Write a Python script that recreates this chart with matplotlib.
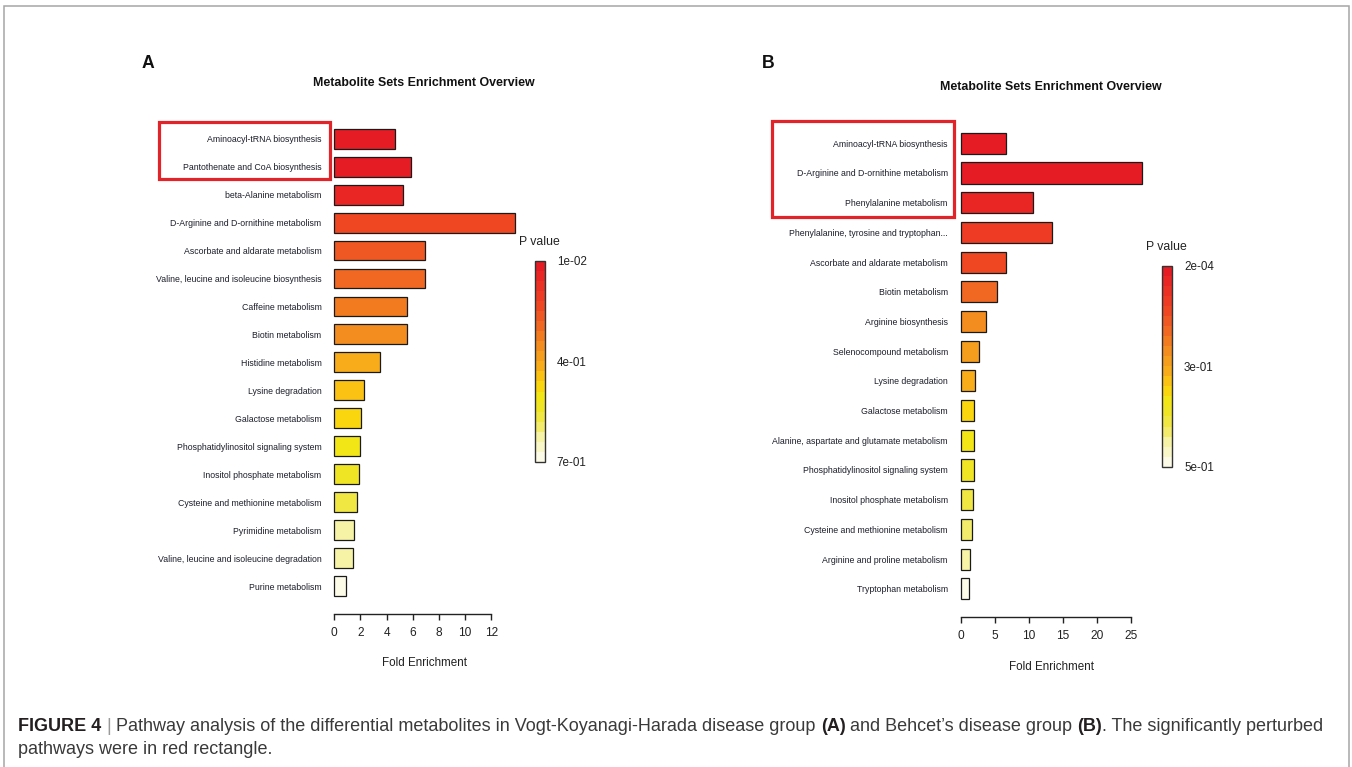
import matplotlib
matplotlib.use("Agg")
import matplotlib.pyplot as plt
import numpy as np
from matplotlib.colors import LinearSegmentedColormap, ListedColormap, Normalize
from matplotlib.cm import ScalarMappable
from matplotlib.patches import Rectangle
from matplotlib.transforms import blended_transform_factory
from matplotlib.font_manager import FontProperties

# ---------------------------------------------------------------- data
a_pathways = [
    "Aminoacyl-tRNA biosynthesis",
    "Pantothenate and CoA biosynthesis",
    "beta-Alanine metabolism",
    "D-Arginine and D-ornithine metabolism",
    "Ascorbate and aldarate metabolism",
    "Valine, leucine and isoleucine biosynthesis",
    "Caffeine metabolism",
    "Biotin metabolism",
    "Histidine metabolism",
    "Lysine degradation",
    "Galactose metabolism",
    "Phosphatidylinositol signaling system",
    "Inositol phosphate metabolism",
    "Cysteine and methionine metabolism",
    "Pyrimidine metabolism",
    "Valine, leucine and isoleucine degradation",
    "Purine metabolism",
]
a_fold = [4.62, 5.84, 5.25, 13.8, 6.93, 6.93, 5.53, 5.53, 3.47, 2.25,
          2.04, 1.97, 1.86, 1.74, 1.48, 1.40, 0.89]
a_pval = [0.010, 0.030, 0.065, 0.150, 0.196, 0.230, 0.270, 0.320, 0.355,
          0.396, 0.440, 0.480, 0.507, 0.534, 0.600, 0.630, 0.700]
a_boxed = 2  # leading pathways marked as significantly perturbed

b_pathways = [
    "Aminoacyl-tRNA biosynthesis",
    "D-Arginine and D-ornithine metabolism",
    "Phenylalanine metabolism",
    "Phenylalanine, tyrosine and tryptophan...",
    "Ascorbate and aldarate metabolism",
    "Biotin metabolism",
    "Arginine biosynthesis",
    "Selenocompound metabolism",
    "Lysine degradation",
    "Galactose metabolism",
    "Alanine, aspartate and glutamate metabolism",
    "Phosphatidylinositol signaling system",
    "Inositol phosphate metabolism",
    "Cysteine and methionine metabolism",
    "Arginine and proline metabolism",
    "Tryptophan metabolism",
]
b_fold = [6.65, 26.67, 10.6, 13.36, 6.65, 5.28, 3.77, 2.69, 2.15, 1.91,
          1.93, 1.93, 1.76, 1.61, 1.41, 1.27]
b_pval = [0.0002, 0.010, 0.040, 0.090, 0.125, 0.160, 0.210, 0.240, 0.275,
          0.310, 0.340, 0.360, 0.380, 0.425, 0.450, 0.500]
b_boxed = 3

title_text = "Metabolite Sets Enrichment Overview"
xlabel_text = "Fold Enrichment"
cbar_title = "P value"

# ---------------------------------------------------------------- setup
W, H, DPI = 1352, 767, 100
fig = plt.figure(figsize=(W / DPI, H / DPI), dpi=DPI, facecolor="white")

SANS = "Liberation Sans"
LABEL_COLOR = "#1d1f2c"
AXIS_COLOR = "#222222"


def fx(px):
    return px / W


def fy(py):
    return 1 - py / H


def add_axes_px(left, top, right, bottom):
    return fig.add_axes([left / W, 1 - bottom / H, (right - left) / W, (bottom - top) / H])


# red -> orange -> yellow -> cream, drawn as discrete steps
anchors = [
    (0.00, "#e61c24"), (0.08, "#ea2b24"), (0.20, "#ee4522"), (0.27, "#ef5a22"),
    (0.32, "#f06a22"), (0.38, "#f27f20"), (0.45, "#f5981e"), (0.50, "#f6a31c"),
    (0.56, "#fbb916"), (0.62, "#fcd20c"), (0.68, "#f3e614"), (0.76, "#efe52a"),
    (0.86, "#f3ec78"), (0.90, "#f6f3a8"), (1.00, "#fcfbe8"),
]
base = LinearSegmentedColormap.from_list("heat", anchors)
cmap = ListedColormap(base(np.linspace(0, 1, 20)))


def draw_panel(letter, names, fold, pval, nboxed, lay):
    n = len(names)
    idx = np.arange(n)
    vmax = max(fold)
    left = lay["x0"]
    right = left + vmax * lay["scale"]
    ax = add_axes_px(left, lay["top"], right, lay["axis_y"])
    sp = lay["spacing"]
    ax.set_xlim(0, vmax)
    ax.set_ylim((lay["axis_y"] - lay["y0"]) / sp, (lay["top"] - lay["y0"]) / sp)

    norm = Normalize(vmin=min(pval), vmax=max(pval))
    bars = ax.barh(idx, fold, height=0.71, color=cmap(norm(np.array(pval))),
                   edgecolor="#1a1a1a", linewidth=0.9, zorder=2)
    for b in bars:
        b.set_clip_on(False)

    ax.set_yticks(idx, names)
    ax.tick_params(axis="y", length=0, pad=9.3, labelsize=6.3, labelcolor=LABEL_COLOR)
    for t in ax.get_yticklabels():
        t.set_fontfamily(SANS)

    for s in ("top", "right", "left"):
        ax.spines[s].set_visible(False)
    ax.spines["bottom"].set_bounds(0, lay["tick_max"])
    ax.spines["bottom"].set_color(AXIS_COLOR)
    ax.spines["bottom"].set_linewidth(1.0)
    ax.set_xticks(np.arange(0, lay["tick_max"] + 0.1, lay["tick_step"]))
    ax.tick_params(axis="x", length=4.3, width=1.0, color=AXIS_COLOR, pad=5,
                   labelsize=8.6, labelcolor=AXIS_COLOR)
    for t in ax.get_xticklabels():
        t.set_fontfamily(SANS)
    ax.patch.set_visible(False)

    tr = blended_transform_factory(ax.transAxes, fig.transFigure)
    ax.text(0.5, fy(lay["xlabel_y"]), xlabel_text, transform=tr, ha="center",
            va="center", fontsize=8.4, family=SANS, color=AXIS_COLOR)

    # highlighted pathways
    btr = blended_transform_factory(fig.transFigure, ax.transData)
    y_top = -lay["box_pad_top"]
    y_bot = nboxed - 1 + lay["box_pad_bot"]
    ax.add_patch(Rectangle((fx(lay["box_x0"]), y_top), fx(lay["box_x1"]) - fx(lay["box_x0"]),
                           y_bot - y_top, transform=btr, fill=False,
                           edgecolor="#e3232a", linewidth=2.3, clip_on=False, zorder=5))

    # colour key
    cax = add_axes_px(lay["cb_x0"], lay["cb_top"], lay["cb_x0"] + 10, lay["cb_bot"])
    mid = (min(pval) + max(pval)) / 2
    cb = fig.colorbar(ScalarMappable(norm=norm, cmap=cmap), cax=cax,
                      ticks=[min(pval), mid, max(pval)])
    cax.invert_yaxis()
    cb.set_ticklabels([f"{v:.0e}" for v in (min(pval), mid, max(pval))])
    cax.tick_params(length=0, pad=8.5, labelsize=8.4, labelcolor=AXIS_COLOR)
    for t in cax.get_yticklabels():
        t.set_fontfamily(SANS)
    cb.outline.set_edgecolor("#333333")
    cb.outline.set_linewidth(1.0)
    fig.text(fx(lay["cb_x0"] + 4), fy(lay["cb_top"] - 19), cbar_title, ha="center",
             va="center", fontsize=8.8, family=SANS, color=AXIS_COLOR)

    fig.text(fx(lay["title_x"]), fy(lay["title_y"]), title_text, ha="center", va="center",
             fontsize=8.9, family=SANS, weight="bold", color="#111111")
    fig.text(fx(lay["letter_x"]), fy(lay["letter_y"]), letter, ha="center", va="center",
             fontsize=12.7, family=SANS, weight="bold", color="#111111")
    return ax


layout_a = dict(x0=334.3, scale=13.08, top=122, axis_y=614, y0=138.7, spacing=27.96,
                tick_max=12, tick_step=2, xlabel_y=663,
                box_x0=159.3, box_x1=330.0, box_pad_top=0.60, box_pad_bot=0.45,
                cb_x0=535, cb_top=260.7, cb_bot=462,
                title_x=423.8, title_y=83.3, letter_x=148, letter_y=63)
layout_b = dict(x0=960.7, scale=6.81, top=120, axis_y=617.3, y0=143.3, spacing=29.7,
                tick_max=25, tick_step=5, xlabel_y=666.7,
                box_x0=771.7, box_x1=954.3, box_pad_top=0.76, box_pad_bot=0.49,
                cb_x0=1162.3, cb_top=265.7, cb_bot=466.7,
                title_x=1050.7, title_y=86.7, letter_x=768, letter_y=63)

draw_panel("A", a_pathways, a_fold, a_pval, a_boxed, layout_a)
draw_panel("B", b_pathways, b_fold, b_pval, b_boxed, layout_b)

# ---------------------------------------------------------------- caption
renderer = fig.canvas.get_renderer()


def run_width(s, props):
    w1, _, _ = renderer.get_text_width_height_descent(s + "x", props, ismath=False)
    w2, _, _ = renderer.get_text_width_height_descent("x", props, ismath=False)
    return w1 - w2


BOLD_C, TEXT_C, BAR_C = "#231f20", "#3a3a3a", "#9a9a9a"
line1 = [
    ("FIGURE 4", "bold", BOLD_C), (" | ", "normal", BAR_C),
    ("Pathway analysis of the differential metabolites in Vogt-Koyanagi-Harada disease group ", "normal", TEXT_C),
    ("(A)", "bold", BOLD_C), (" and Behcet\u2019s disease group ", "normal", TEXT_C),
    ("(B)", "bold", BOLD_C), (". The significantly perturbed", "normal", TEXT_C),
]
line2 = [("pathways were in red rectangle.", "normal", TEXT_C)]

size = 12.0
total = sum(run_width(s, FontProperties(family=SANS, weight=w, size=size)) for s, w, _ in line1)
size = size * (1325.7 - 18.3) / total


def draw_runs(runs, x, baseline):
    for s, w, c in runs:
        fp = FontProperties(family=SANS, weight=w, size=size)
        fig.text(fx(x), fy(baseline), s, fontproperties=fp, color=c, va="baseline", ha="left")
        x += run_width(s, fp)


draw_runs(line1, 18.3, 730.7)
draw_runs(line2, 18.3, 754.3)

# outer frame
fig.add_artist(Rectangle((fx(4), -0.05), fx(1348.5) - fx(4), fy(6) + 0.05,
                         transform=fig.transFigure, fill=False, edgecolor="#a6a6a6",
                         linewidth=1.1))

fig.savefig("out.png", dpi=DPI, facecolor="white")
